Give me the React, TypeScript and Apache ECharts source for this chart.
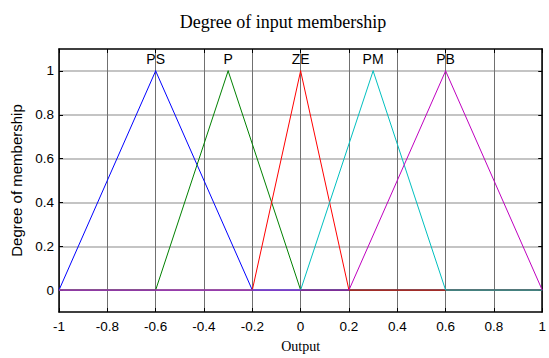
import React, { useEffect, useRef } from "react";
import * as echarts from "echarts";

const titleText = "Degree of input membership";
const xName = "Output";
const yName = "Degree of membership";
const xTicks = [-1, -0.8, -0.6, -0.4, -0.2, 0, 0.2, 0.4, 0.6, 0.8, 1];
const yTicks = [0, 0.2, 0.4, 0.6, 0.8, 1];

const mfNames = ["PS", "P", "ZE", "PM", "PB"];
const mfColors = ["#0000ff", "#008000", "#ff0000", "#00bfbf", "#bf00bf"];
// polyline points of each membership function over the full range
const psX = [-1, -0.6, -0.2, 1];
const psY = [0, 1, 0, 0];
const pX = [-1, -0.6, -0.3, 0, 1];
const pY = [0, 0, 1, 0, 0];
const zeX = [-1, -0.2, 0, 0.2, 1];
const zeY = [0, 0, 1, 0, 0];
const pmX = [-1, 0, 0.3, 0.6, 1];
const pmY = [0, 0, 1, 0, 0];
const pbX = [-1, 0.2, 0.6, 1];
const pbY = [0, 0, 1, 0];

const mfXs = [psX, pX, zeX, pmX, pbX];
const mfYs = [psY, pY, zeY, pmY, pbY];

const sans = "'Liberation Sans', Arial, sans-serif";
const serif = "'Liberation Serif', 'Times New Roman', serif";

export default function App() {
  const ref = useRef<HTMLDivElement>(null);
  useEffect(() => {
    if (!ref.current) return;
    const chart = echarts.init(ref.current, null, { renderer: "svg" });
    const series = mfNames.map((name, i) => {
      const peakIdx = mfYs[i].indexOf(1);
      return {
        name,
        type: "line",
        xAxisIndex: 0,
        yAxisIndex: 0,
        symbol: "none",
        lineStyle: { color: mfColors[i], width: 1 },
        itemStyle: { color: mfColors[i] },
        data: mfXs[i].map((x, j) => [x, mfYs[i][j]]),
        markPoint: {
          symbol: "circle",
          symbolSize: 1,
          itemStyle: { color: mfColors[i] },
          label: {
            show: true,
            position: "top",
            distance: 4,
            color: "#000",
            fontFamily: sans,
            fontSize: 14,
            formatter: name,
          },
          data: [{ coord: [mfXs[i][peakIdx], mfYs[i][peakIdx]], value: name }],
        },
      };
    });
    const common = {
      type: "value",
      axisLine: { show: true, onZero: false, lineStyle: { color: "#000", width: 1.5 } },
      axisTick: { show: true, inside: true, length: 4, lineStyle: { color: "#000" } },
    };
    chart.setOption({
      animation: false,
      backgroundColor: "#fff",
      title: {
        text: titleText,
        left: 278,
        top: 8,
        textAlign: "center",
        textStyle: { fontFamily: serif, fontSize: 18, fontWeight: "normal", color: "#000" },
      },
      grid: { left: 59, right: 2.5, top: 49, bottom: 42 },
      xAxis: [
        {
          ...common,
          min: -1,
          max: 1,
          interval: 0.2,
          position: "bottom",
          name: xName,
          nameLocation: "middle",
          nameGap: 27,
          nameTextStyle: { fontFamily: serif, fontSize: 14, color: "#000" },
          axisLabel: {
            color: "#000",
            fontFamily: sans,
            fontSize: 13.5,
            margin: 7,
            customValues: xTicks,
          },
          splitLine: { show: true, lineStyle: { color: "#707070", width: 1 } },
        },
        {
          ...common,
          min: -1,
          max: 1,
          interval: 0.2,
          position: "top",
          axisLabel: { show: false },
          splitLine: { show: false },
        },
      ],
      yAxis: [
        {
          ...common,
          min: -0.1,
          max: 1.1,
          position: "left",
          name: yName,
          nameLocation: "middle",
          nameGap: 35,
          nameTextStyle: { fontFamily: sans, fontSize: 15, color: "#000" },
          axisTick: { ...common.axisTick, customValues: yTicks },
          axisLabel: {
            color: "#000",
            fontFamily: sans,
            fontSize: 13.5,
            margin: 5,
            customValues: yTicks,
          },
          splitLine: { show: true, lineStyle: { color: "#b0b0b0", width: 1.5 } },
        },
        {
          ...common,
          min: -0.1,
          max: 1.1,
          position: "right",
          axisTick: { ...common.axisTick, customValues: yTicks },
          axisLabel: { show: false, customValues: yTicks },
          splitLine: { show: false },
        },
      ],
      series,
    });
    return () => chart.dispose();
  }, []);
  return (
    <div
      ref={ref}
      style={{ position: "fixed", left: 0, top: 0, width: 549, height: 358, background: "#fff" }}
    />
  );
}
